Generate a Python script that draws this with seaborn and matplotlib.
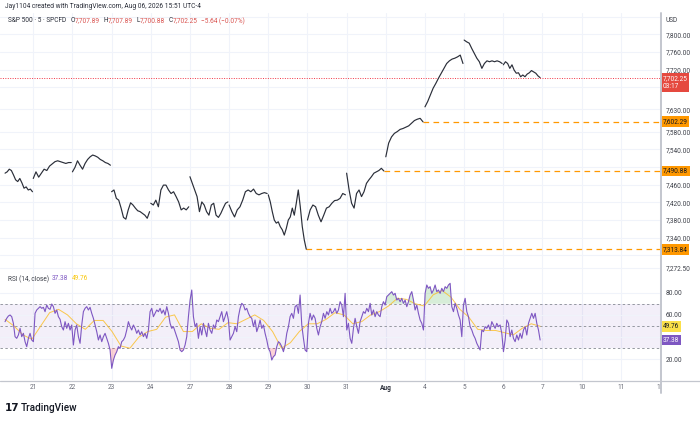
import numpy as np
import pandas as pd
import matplotlib
matplotlib.use("Agg")
import matplotlib.pyplot as plt
import matplotlib.transforms as mtransforms
from matplotlib.lines import Line2D
from matplotlib.patches import Rectangle
import seaborn as sns

# --- price closes per session (5 min bars) ---
p_jul20 = [7486, 7489, 7495, 7492, 7482, 7471, 7467, 7474, 7464, 7452, 7455, 7448, 7450, 7444]
p_jul21 = [7474, 7489, 7477, 7486, 7495, 7492, 7502, 7507, 7512, 7514, 7512, 7510, 7508, 7510, 7510]
p_jul22 = [7489, 7499, 7514, 7504, 7495, 7508, 7517, 7523, 7527, 7525, 7522, 7517, 7514, 7510, 7508, 7504]
p_jul23 = [7444, 7448, 7429, 7425, 7407, 7386, 7382, 7403, 7419, 7414, 7407, 7401, 7399, 7395, 7391, 7384, 7399]
p_jul24 = [7418, 7414, 7425, 7410, 7448, 7459, 7459, 7448, 7440, 7444, 7433, 7421, 7403, 7407, 7403, 7410]
p_jul27 = [7478, 7463, 7448, 7433, 7399, 7421, 7414, 7399, 7391, 7414, 7418, 7391, 7386, 7395, 7407, 7418, 7421]
p_jul28 = [7414, 7399, 7387, 7403, 7410, 7425, 7444, 7448, 7444, 7450, 7440, 7437, 7440, 7442, 7440]
p_jul29 = [7437, 7421, 7399, 7380, 7373, 7376, 7365, 7358, 7346, 7361, 7380, 7387, 7407, 7391, 7418,
           7448, 7410, 7365, 7335, 7314]
p_jul30 = [7380, 7403, 7414, 7410, 7391, 7376, 7391, 7407, 7410, 7418, 7424, 7425, 7429, 7440, 7437]
p_jul31 = [7486, 7448, 7418, 7407, 7440, 7448, 7433, 7444, 7463, 7471, 7478, 7486, 7489, 7492, 7497, 7491]
p_aug03 = [7523, 7554, 7568, 7576, 7580, 7585, 7587, 7590, 7593, 7599, 7605, 7608, 7610, 7602]
p_aug04 = [7636, 7648, 7663, 7678, 7689, 7701, 7712, 7723, 7734, 7740, 7744, 7746, 7749, 7753, 7734]
p_aug05 = [7787, 7783, 7780, 7768, 7757, 7746, 7738, 7723, 7734, 7740, 7738, 7740, 7738, 7740, 7738, 7734]
p_aug06 = [7731, 7738, 7734, 7723, 7731, 7719, 7712, 7713, 7704, 7708, 7704, 7710, 7713, 7718, 7715,
           7712, 7706, 7702]

# session slot on the gapless trading-day axis: start, end
sessions = [
    ("jul20", p_jul20, -0.72, -0.02),
    ("jul21", p_jul21, 0.0, 0.97),
    ("jul22", p_jul22, 1.0, 1.97),
    ("jul23", p_jul23, 2.0, 2.97),
    ("jul24", p_jul24, 3.0, 3.97),
    ("jul27", p_jul27, 4.0, 4.97),
    ("jul28", p_jul28, 5.0, 5.97),
    ("jul29", p_jul29, 6.0, 6.97),
    ("jul30", p_jul30, 7.0, 7.97),
    ("jul31", p_jul31, 8.0, 8.95),
    ("aug03", p_aug03, 9.0, 9.95),
    ("aug04", p_aug04, 10.0, 10.97),
    ("aug05", p_aug05, 11.0, 11.97),
    ("aug06", p_aug06, 12.0, 12.94),
]

day_labels = ["21", "22", "23", "24", "27", "28", "29", "30", "31", "Aug",
              "4", "5", "6", "7", "10", "11", "12"]

last_close = 7702.25
levels = [7602.29, 7490.88, 7313.84]
level_start = [9.95, 8.95, 6.97]

price_grid = [7840, 7800, 7760, 7720, 7680, 7630, 7580, 7540, 7500, 7460, 7420, 7380, 7340, 7300, 7272.5]
price_ticklabels = ["", "7,800.00", "7,760.00", "7,720.00", "", "7,630.00", "7,580.00", "7,540.00", "",
                    "7,460.00", "7,420.00", "7,380.00", "7,340.00", "", "7,272.50"]

# RSI(14) values, evenly spaced bars from the first to the last visible bar
rsi_vals = [
    53.9, 56.9, 59.0, 59.9, 58.4, 52.4, 40.4, 38.9, 41.9, 47.9, 40.4, 43.4, 35.9, 31.4, 38.9, 43.4,
    37.4, 35.9, 61.4, 64.4, 65.9, 67.4, 65.9, 66.8, 62.9, 68.9, 65.9, 65.0, 69.8, 67.4, 61.4, 64.4,
    58.4, 56.0, 49.4, 46.4, 53.9, 47.9, 52.4, 46.4, 50.9, 32.9, 46.4, 50.9, 40.4, 34.4, 50.9, 62.9,
    65.9, 67.4, 64.4, 66.8, 61.4, 56.9, 50.9, 44.9, 37.4, 41.9, 35.9, 40.4, 43.4, 38.9, 34.4, 28.4,
    11.9, 19.4, 23.9, 26.9, 31.4, 29.9, 35.9, 37.4, 40.4, 46.4, 53.9, 49.4, 46.4, 50.9, 47.9, 43.4,
    46.4, 41.9, 44.9, 40.4, 43.4, 38.9, 46.4, 62.9, 65.9, 58.4, 61.4, 64.4, 62.9, 65.9, 61.4, 64.4,
    59.9, 67.4, 61.4, 52.4, 47.9, 49.4, 44.9, 40.4, 35.9, 28.4, 26.9, 28.4, 32.9, 40.4, 58.4, 73.4,
    82.4, 58.4, 49.4, 52.4, 38.9, 49.4, 41.9, 52.4, 46.4, 40.4, 52.4, 46.4, 43.4, 50.9, 47.9, 55.4,
    53.9, 58.4, 62.9, 53.9, 58.4, 62.9, 55.4, 37.4, 40.4, 43.4, 49.4, 44.9, 58.4, 65.9, 70.4, 68.9,
    64.4, 65.9, 61.4, 58.4, 56.9, 49.4, 55.4, 44.9, 49.4, 55.4, 47.9, 50.9, 43.4, 37.4, 29.9, 26.9,
    19.4, 22.4, 23.9, 31.4, 35.9, 34.4, 31.4, 26.9, 32.9, 43.4, 49.4, 58.4, 61.4, 56.9, 67.4, 68.9,
    61.4, 77.9, 50.9, 38.9, 28.4, 26.9, 52.4, 61.4, 55.4, 59.9, 56.9, 47.9, 41.9, 49.4, 53.9, 61.4,
    56.9, 62.9, 59.9, 65.9, 61.4, 62.9, 65.9, 61.4, 64.4, 71.9,
    68.9, 58.4, 79.4, 46.4, 52.4, 38.9, 34.4, 47.9, 56.9, 49.4, 43.4, 53.9, 58.4, 62.9, 61.4, 65.9,
    62.9, 70.4, 59.9, 64.4, 58.4, 62.9, 59.9, 58.4, 67.4, 71.9, 68.9, 76.4, 77.9, 79.4, 80.9, 77.9,
    79.4, 73.4, 74.9, 71.9, 74.9, 70.4, 73.4, 67.4, 71.9, 77.9, 80.9, 73.4, 64.4, 68.9, 61.4, 55.4,
    52.4, 46.4, 79.4, 86.9, 83.9, 85.4, 79.4, 82.4, 86.9, 80.9, 82.4, 79.4, 83.9, 80.9, 85.4, 83.9,
    86.9, 88.4, 67.4, 62.9, 70.4, 65.9, 59.9, 55.4, 40.4, 68.9, 74.9, 62.9, 58.4, 49.4, 46.4, 41.9,
    38.9, 34.4, 31.4, 28.4, 46.4, 44.9, 49.4, 47.9, 50.9, 46.4, 53.9, 50.9, 47.9, 52.4, 49.4, 50.9,
    43.4, 26.9, 37.4, 55.4, 52.4, 40.4, 46.4, 38.9, 35.9, 41.9, 37.4, 43.4, 38.9, 46.4, 49.4, 41.9,
    52.4, 56.9, 61.4, 56.9, 61.4, 52.4, 46.4, 37.4,
]
# RSI-based MA (yellow), read coarsely
rsi_ma = [56, 50, 42, 38, 50, 62, 65, 60, 52, 47, 55, 55, 45, 32, 30, 40, 45, 47, 58, 60, 45,
          45, 52, 48, 47, 53, 52, 56, 60, 55, 45, 30, 35, 45, 52, 52, 56, 62, 60, 52, 54, 60,
          63, 68, 75, 74, 70, 68, 78, 82, 76, 65, 58, 47, 46, 46, 44, 42, 48, 52, 49.76]
rsi_last, ma_last = 37.38, 49.76
rsi_grid = [80, 60, 40, 20]

T0, T1 = -0.72, 12.94

# --- build frames ---
rows = []
for name, vals, a, b in sessions:
    for t, v in zip(np.linspace(a, b, len(vals)), vals):
        rows.append((name, t, v))
price_df = pd.DataFrame(rows, columns=["session", "t", "price"])
rsi_df = pd.DataFrame({"t": np.linspace(T0, T1, len(rsi_vals)), "rsi": rsi_vals})
ma_df = pd.DataFrame({"t": np.linspace(T0, T1, len(rsi_ma)), "ma": rsi_ma})

sns.set_theme(style="white")
plt.rcParams["font.family"] = ["Roboto", "DejaVu Sans"]

W, H = 700, 423
fig = plt.figure(figsize=(7.0, 4.23), dpi=100)
fig.patch.set_facecolor("white")


def fy(py):
    return 1 - py / H


X_LEFT, X_RIGHT = -0.849, 15.99
ax_p = fig.add_axes([0, fy(272), 660 / W, fy(13) - fy(272)])
ax_r = fig.add_axes([0, fy(380), 660 / W, fy(272) - fy(380)], sharex=ax_p)

GRID = "#f0f3fa"
TXT = "#3d4049"
DARK = "#2a2e39"
RED = "#d9534f"
FS = 4.7

for ax in (ax_p, ax_r):
    ax.set_facecolor("white")
    for s in ax.spines.values():
        s.set_visible(False)
    for d in range(len(day_labels)):
        ax.axvline(d, color=GRID, lw=0.8, zorder=0)

# price panel
for g in price_grid:
    ax_p.axhline(g, color=GRID, lw=0.8, zorder=0)
sns.lineplot(data=price_df, x="t", y="price", units="session", estimator=None,
             color=DARK, lw=0.85, ax=ax_p, legend=False, zorder=3)
ax_p.axhline(last_close, color="#f23645", lw=0.7, ls=(0, (1, 1.5)), zorder=2)
for lv, st in zip(levels, level_start):
    ax_p.plot([st, X_RIGHT], [lv, lv], color="#ff9800", lw=0.9, ls=(0, (4.5, 3.5)), zorder=2)

ax_p.set_xlim(X_LEFT, X_RIGHT)
ax_p.set_ylim(7262.5, 7848.2)
ax_p.yaxis.tick_right()
ax_p.set_yticks(price_grid)
ax_p.set_yticklabels(price_ticklabels)
ax_p.tick_params(axis="y", length=0, pad=3.8, labelsize=FS, labelcolor=TXT)
ax_p.tick_params(axis="x", length=0, labelbottom=False)
ax_p.set_xlabel("")
ax_p.set_ylabel("")

blend_p = mtransforms.blended_transform_factory(ax_p.transAxes, ax_p.transData)
for lv in levels:
    ax_p.text(1.004, lv, f"{lv:,.2f}", transform=blend_p, ha="left", va="center",
              fontsize=FS, color="#131722", clip_on=False, zorder=10,
              bbox=dict(boxstyle="square,pad=0.3", fc="#ff9800", ec="none"))
ax_p.annotate(f"{last_close:,.2f}\n03:17", xy=(1.004, last_close), xycoords=blend_p,
              xytext=(0, 2.0), textcoords="offset points", ha="left", va="top",
              fontsize=FS, color="white", linespacing=1.25, annotation_clip=False, zorder=10,
              bbox=dict(boxstyle="square,pad=0.3", fc="#e5493f", ec="none"))

# RSI panel
ax_r.axhspan(30, 70, color="#7e57c2", alpha=0.09, lw=0, zorder=0)
for g in rsi_grid:
    ax_r.axhline(g, color=GRID, lw=0.8, zorder=0)
for g in (70, 50, 30):
    ax_r.axhline(g, color="#9598a1", lw=0.7, ls=(0, (2.5, 2.5)), zorder=1)
rv = np.array(rsi_vals)
rt = rsi_df["t"].to_numpy()
ax_r.fill_between(rt, 70, rv, where=rv > 70, interpolate=True, color="#4caf50", alpha=0.22, lw=0)
ax_r.fill_between(rt, 30, rv, where=rv < 30, interpolate=True, color="#f23645", alpha=0.22, lw=0)
sns.lineplot(data=ma_df, x="t", y="ma", color="#fbc02d", lw=0.7, ax=ax_r, zorder=2, alpha=0.85)
sns.lineplot(data=rsi_df, x="t", y="rsi", color="#7e57c2", lw=0.8, ax=ax_r, zorder=3)

ax_r.set_xlim(X_LEFT, X_RIGHT)
ax_r.set_ylim(1.4, 98.6)
ax_r.yaxis.tick_right()
ax_r.set_yticks(rsi_grid)
ax_r.set_yticklabels([f"{g:.2f}" for g in rsi_grid])
ax_r.tick_params(axis="y", length=0, pad=3.8, labelsize=FS, labelcolor=TXT)
ax_r.set_xticks(range(len(day_labels)))
ax_r.set_xticklabels(day_labels)
ax_r.tick_params(axis="x", length=0, pad=3.2, labelsize=FS, labelcolor="#6a6d78")
for lab in ax_r.get_xticklabels():
    if lab.get_text() == "Aug":
        lab.set_fontweight("bold")
        lab.set_color(DARK)
ax_r.set_xlabel("")
ax_r.set_ylabel("")

blend_r = mtransforms.blended_transform_factory(ax_r.transAxes, ax_r.transData)
ax_r.text(1.004, ma_last, f"{ma_last:.2f}", transform=blend_r, ha="left", va="center",
          fontsize=FS, color="#131722", clip_on=False, zorder=10,
          bbox=dict(boxstyle="square,pad=0.3", fc="#fbe04a", ec="none"))
ax_r.text(1.004, rsi_last, f"{rsi_last:.2f}", transform=blend_r, ha="left", va="center",
          fontsize=FS, color="white", clip_on=False, zorder=10,
          bbox=dict(boxstyle="square,pad=0.3", fc="#7e57c2", ec="none"))


def chain_text(ax, parts, x, y, fs):
    """write coloured text pieces one after another on one line"""
    last = ax.text(x, y, parts[0][0], transform=fig.transFigure, fontsize=fs,
                   color=parts[0][1], va="center", ha="left", clip_on=False)
    for txt, col, gap in parts[1:]:
        last = ax.annotate(txt, xy=(1, 0.5), xycoords=last, xytext=(gap, 0),
                           textcoords="offset points", fontsize=fs, color=col,
                           va="center", ha="left", annotation_clip=False)
    return last


# RSI legend
chain_text(ax_r, [("RSI (14, close)", TXT, 0), (f"{rsi_last:.2f}", "#7e57c2", 2.2),
                  (f"{ma_last:.2f}", "#f9c80e", 2.2)], 8 / W, fy(279), FS)

# frame lines and cover for the right price scale area
fig.add_artist(Rectangle((660.5 / W, fy(395)), (W - 660.5) / W, fy(381) - fy(395),
                         transform=fig.transFigure, fc="white", ec="none", zorder=5))
fig.add_artist(Line2D([0, 1], [fy(380.5)] * 2, color="#c3c6ce", lw=0.9, zorder=6))
fig.add_artist(Line2D([660.5 / W] * 2, [fy(393), fy(13)], color="#c3c6ce", lw=1.4, zorder=6))

# header
fig.text(5 / W, fy(7), "Jay1104 created with TradingView.com, Aug 06, 2026 15:51 UTC-4",
         fontsize=4.8, color=DARK, va="center", ha="left")
fig.text(666 / W, fy(21), "USD", fontsize=FS, color=TXT, va="center", ha="left")
chain_text(ax_p, [("S&P 500 · 5 · SPCFD", DARK, 0), ("O", DARK, 3.0), ("7,707.89", RED, 0.2),
                  ("H", DARK, 2.2), ("7,707.89", RED, 0.2), ("L", DARK, 2.2), ("7,700.88", RED, 0.2),
                  ("C", DARK, 2.2), ("7,702.25", RED, 0.2), ("−5.64 (−0.07%)", RED, 2.2)],
           8 / W, fy(21), FS)

# logo
fig.text(5 / W, fy(408), "17", fontsize=7.5, fontweight="heavy", color="#131722",
         va="center", ha="left", family="DejaVu Sans")
fig.text(20.5 / W, fy(408), "TradingView", fontsize=7.2, fontweight="medium", color="#131722",
         va="center", ha="left")

fig.savefig("out.png", dpi=100, facecolor="white")
